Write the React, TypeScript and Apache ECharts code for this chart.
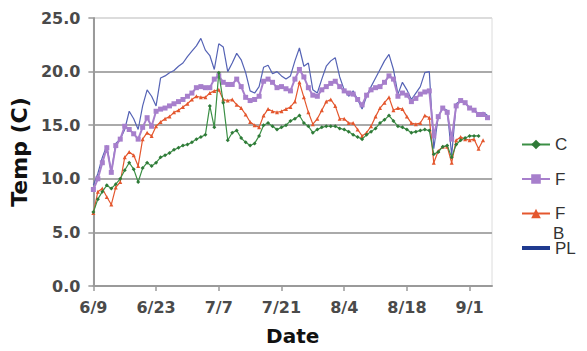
import React, { useEffect, useRef } from "react";
import * as echarts from "echarts";

// Day offsets from 6/9 (index = days since 6/9)
const xTickValues = [0, 14, 28, 42, 56, 70, 84];
const xTickLabels = ["6/9", "6/23", "7/7", "7/21", "8/4", "8/18", "9/1"];
const yTickLabels = ["0.0", "5.0", "10.0", "15.0", "20.0", "25.0"];

const seriesNames = ["C", "F", "FB", "PL"];

const cValues = [
  6.9, 8.1, 8.8, 9.4, 9.1, 9.5, 10.0, 10.8, 11.5, 10.9,
  9.7, 11.0, 11.5, 11.2, 11.5, 12.0, 12.2, 12.4, 12.7, 12.9,
  13.1, 13.2, 13.4, 13.7, 13.9, 14.1, 16.8, 14.8, 19.9, 17.1,
  13.6, 14.3, 14.5, 13.8, 13.4, 13.1, 13.3, 14.0, 15.0, 15.2,
  14.9, 14.6, 14.8, 15.0, 15.4, 15.6, 15.9, 15.2, 14.9, 14.3,
  14.6, 14.8, 14.9, 14.9, 14.9, 14.7, 14.6, 14.4, 14.1, 13.9,
  13.7, 14.1, 14.4, 14.7, 15.2, 15.5, 15.9, 15.4, 14.9, 14.8,
  14.6, 14.3, 14.4, 14.5, 14.6, 14.5, 12.3, 12.5, 13.0, 13.1,
  12.0, 13.2, 13.6, 13.8, 14.0, 14.0, 14.0,
];

const fValues = [
  9.0, 10.0, 11.5, 12.9, 10.6, 13.1, 13.7, 14.9, 14.6, 14.2,
  13.7, 14.8, 15.7, 14.9, 16.3, 16.5, 16.6, 16.8, 17.0, 17.2,
  17.4, 17.7, 18.0, 18.5, 18.6, 18.5, 18.5, 19.3, 19.6, 19.0,
  18.8, 18.8, 19.3, 18.6, 17.6, 17.3, 17.4, 17.7, 19.1, 19.3,
  19.0, 18.5, 18.6, 18.4, 18.2, 19.3, 20.2, 19.5, 18.5, 17.8,
  17.7, 18.3, 18.6, 18.9, 19.1, 18.6, 18.2, 18.0, 17.9, 17.4,
  16.9, 17.8, 18.3, 18.5, 18.6, 19.0, 19.6, 19.3, 17.7, 18.0,
  17.8, 17.2, 17.5, 17.9, 18.1, 18.2, 14.0, 15.8, 16.6, 16.2,
  13.7, 16.8, 17.3, 17.1, 16.6, 16.4, 16.0, 16.0, 15.7,
];

const fbValues = [
  6.8, 8.8, 9.1, 8.3, 7.6, 9.2, 9.7, 12.0, 12.5, 12.2,
  11.2, 13.7, 14.3, 14.0, 14.9, 15.3, 15.6, 15.8, 16.2, 16.4,
  16.7, 17.0, 17.4, 17.7, 17.6, 17.6, 18.0, 18.2, 18.3, 17.4,
  17.3, 17.4, 16.9, 16.6, 16.0, 15.3, 15.0, 14.8, 15.9, 16.5,
  16.3, 16.2, 16.3, 16.5, 16.7, 17.2, 19.0, 17.6, 16.2, 15.1,
  15.6, 16.4, 17.2, 17.4, 16.8, 15.6, 15.6, 15.2, 15.2, 14.6,
  14.0, 14.3, 14.9, 15.8, 16.6, 17.1, 17.6, 16.4, 16.6, 16.5,
  15.8, 15.2, 15.1, 15.2, 15.9, 15.7, 11.5, 12.6, 13.0, 13.0,
  11.5, 13.6, 13.9, 13.7, 13.6, 13.7, 12.8, 13.6,
];

const plValues = [
  9.4, 10.5, 12.0, 13.1, 10.6, 13.3, 13.7, 14.6, 16.3, 15.6,
  14.6, 16.8, 18.3, 17.7, 16.8, 19.4, 19.6, 19.9, 20.1, 20.5,
  20.8, 21.4, 21.9, 22.4, 23.1, 22.0, 21.5, 20.2, 22.6, 22.3,
  20.0, 20.8, 21.7, 21.1, 19.9, 18.2, 18.0, 18.6, 20.4, 20.6,
  19.8, 20.0, 19.6, 19.3, 19.6, 21.0, 22.2, 20.5, 20.8, 18.3,
  18.0, 19.3, 20.5, 21.0, 21.3, 19.5, 18.3, 17.7, 18.2, 17.4,
  16.5, 17.7, 18.6, 19.4, 20.2, 21.0, 21.6, 20.2, 17.9, 19.0,
  18.3, 17.4, 18.0, 18.6, 19.9, 20.0, 12.8, 15.8, 16.6, 16.4,
  12.2, 17.0, 17.3, 17.1, 16.6, 16.5, 16.0, 16.2, 15.9,
];

const toPairs = (vals: number[]) => vals.map((v, i) => [i, v]);

export default function App() {
  const ref = useRef<HTMLDivElement>(null);

  useEffect(() => {
    if (!ref.current) return;
    const chart = echarts.init(ref.current, null, { renderer: "svg" });
    const axisFont = "DejaVu Sans";
    const option = {
      animation: false,
      backgroundColor: "#ffffff",
      grid: {
        left: 90,
        right: 95,
        top: 18,
        bottom: 63,
        show: true,
        borderColor: "#dcdcdc",
        borderWidth: 1,
        backgroundColor: "transparent",
      },
      legend: {
        orient: "vertical",
        left: 516,
        top: 131,
        itemWidth: 28,
        itemHeight: 12,
        itemGap: 17.5,
        textStyle: {
          fontFamily: "Liberation Sans",
          fontSize: 17,
          color: "#333333",
        },
        formatter: (name: string) => (name === "FB" ? "F" : name),
        data: [
          { name: "C" },
          { name: "F" },
          { name: "FB" },
          {
            name: "PL",
            icon: "path://M0,0 L28,0 L28,4 L0,4 Z",
            itemStyle: { color: "#1f3a8f" },
          },
        ],
      },
      graphic: [
        {
          type: "text",
          left: 553,
          top: 225,
          style: {
            text: "B",
            fontFamily: "Liberation Sans",
            fontSize: 17,
            fill: "#333333",
          },
        },
      ],
      xAxis: {
        type: "value",
        min: 0,
        max: 89,
        interval: 14,
        name: "Date",
        nameLocation: "middle",
        nameGap: 40,
        nameTextStyle: {
          fontFamily: axisFont,
          fontWeight: "bold",
          fontSize: 20,
          color: "#111111",
        },
        axisLine: { show: true, lineStyle: { color: "#9a9a9a", width: 2 } },
        axisTick: {
          show: true,
          length: 5,
          customValues: xTickValues,
          lineStyle: { color: "#9a9a9a", width: 1.5 },
        },
        axisLabel: {
          customValues: xTickValues,
          margin: 13,
          fontFamily: axisFont,
          fontWeight: "bold",
          fontSize: 16,
          color: "#4a4a4a",
          formatter: (v: number) => {
            const i = xTickValues.indexOf(v);
            return i >= 0 ? xTickLabels[i] : "";
          },
        },
        splitLine: { show: false },
      },
      yAxis: {
        type: "value",
        min: 0,
        max: 25,
        interval: 5,
        name: "Temp (C)",
        nameLocation: "middle",
        nameGap: 52,
        nameTextStyle: {
          fontFamily: axisFont,
          fontWeight: "bold",
          fontSize: 22,
          color: "#111111",
        },
        axisLine: { show: true, lineStyle: { color: "#9a9a9a", width: 2 } },
        axisTick: { show: true, length: 5, lineStyle: { color: "#9a9a9a", width: 1.5 } },
        axisLabel: {
          margin: 13,
          fontFamily: axisFont,
          fontWeight: "bold",
          fontSize: 16,
          color: "#4a4a4a",
          formatter: (v: number) => yTickLabels[Math.round(v / 5)] ?? "",
        },
        splitLine: {
          show: true,
          lineStyle: {
            color: ["#aaaaaa", "#aaaaaa", "#aaaaaa", "#aaaaaa", "#aaaaaa", "#dcdcdc"],
            width: 2,
          },
        },
      },
      series: [
        {
          name: seriesNames[3],
          type: "line",
          data: toPairs(plValues),
          symbol: "none",
          lineStyle: { color: "#5563b5", width: 1.2 },
          itemStyle: { color: "#1f3a8f" },
          z: 1,
        },
        {
          name: seriesNames[1],
          type: "line",
          data: toPairs(fValues),
          symbol: "rect",
          symbolSize: 5,
          lineStyle: { color: "#a77fcc", width: 2 },
          itemStyle: { color: "#a77fcc" },
          z: 2,
        },
        {
          name: seriesNames[2],
          type: "line",
          data: toPairs(fbValues),
          symbol: "triangle",
          symbolSize: 4,
          lineStyle: { color: "#e4572e", width: 1.2 },
          itemStyle: { color: "#e4572e" },
          z: 3,
        },
        {
          name: seriesNames[0],
          type: "line",
          data: toPairs(cValues),
          symbol: "diamond",
          symbolSize: 4,
          lineStyle: { color: "#3b8f45", width: 1.2 },
          itemStyle: { color: "#2f7a38" },
          z: 4,
        },
      ],
    };
    chart.setOption(option as any);
    return () => chart.dispose();
  }, []);

  return <div ref={ref} style={{ width: 587, height: 351, margin: -8 }} />;
}
